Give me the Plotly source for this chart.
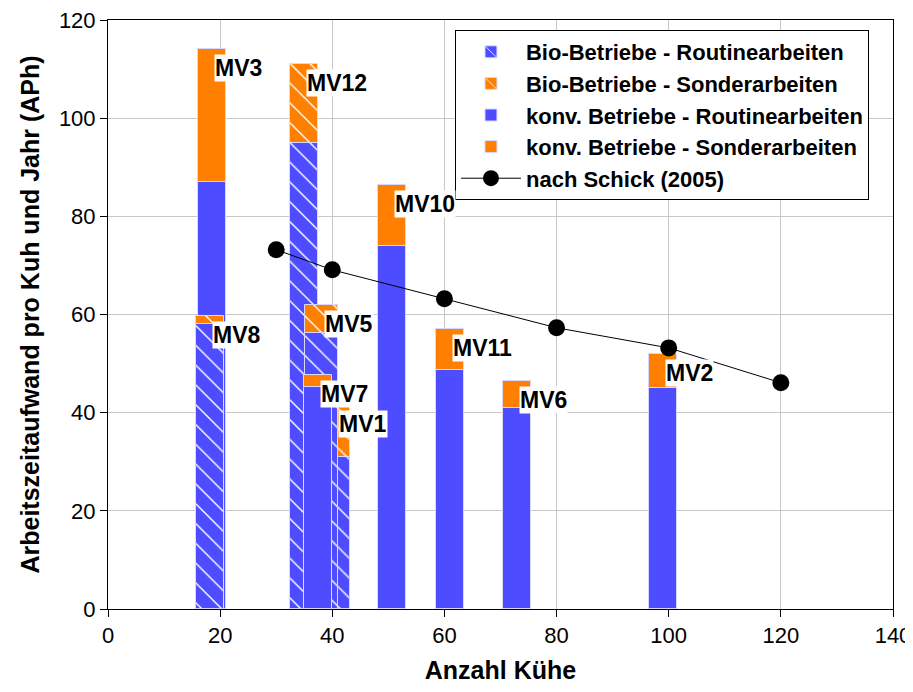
import plotly.graph_objects as go

# ---- data ----
farms = ["MV3", "MV8", "MV12", "MV1", "MV5", "MV7", "MV10", "MV11", "MV6", "MV2"]
cows = [18.6, 18.2, 35.0, 40.7, 38.1, 37.5, 50.6, 61.0, 72.9, 99.0]
is_bio = [False, True, True, True, True, False, False, False, False, False]
routine = [87.0, 58.0, 95.0, 31.0, 56.3, 45.3, 74.0, 48.6, 41.0, 45.1]
sonder = [27.0, 1.6, 16.0, 10.5, 5.7, 2.3, 12.3, 8.5, 5.5, 6.9]

schick_cows = [30, 40, 60, 80, 100, 120]
schick_aph = [73.2, 69.1, 63.2, 57.3, 53.2, 46.1]

series_names = {
    (True, "r"): "Bio-Betriebe - Routinearbeiten",
    (True, "s"): "Bio-Betriebe - Sonderarbeiten",
    (False, "r"): "konv. Betriebe - Routinearbeiten",
    (False, "s"): "konv. Betriebe - Sonderarbeiten",
}
schick_name = "nach Schick (2005)"

x_ticks = [0, 20, 40, 60, 80, 100, 120, 140]
y_ticks = [0, 20, 40, 60, 80, 100, 120]

# ---- style ----
BLUE = "#4D4DFF"
ORANGE = "#FF8000"
FONT = "Arial, 'Liberation Sans', sans-serif"
BAR_W = 5.0
WIDTH_OVERRIDE = {"MV5": 5.9}
rank = {(True, "r"): 1, (True, "s"): 2, (False, "r"): 3, (False, "s"): 4}

fig = go.Figure()
shown = set()
for f, x, bio, r, s in zip(farms, cows, is_bio, routine, sonder):
    w = WIDTH_OVERRIDE.get(f, BAR_W)
    for part, val, base, col in (("r", r, 0, BLUE), ("s", s, r, ORANGE)):
        key = (bio, part)
        marker = dict(color=col, line=dict(color="#D8D8FF", width=1))
        if bio:
            marker["pattern"] = dict(shape="\\", fgcolor="white", bgcolor=col,
                                     size=14, solidity=0.1, fillmode="replace")
        fig.add_trace(go.Bar(
            x=[x], y=[val], base=[base], width=[w],
            marker=marker, name=series_names[key],
            legendgroup=series_names[key], legendrank=rank[key],
            showlegend=key not in shown, hoverinfo="skip",
        ))
        shown.add(key)

fig.add_trace(go.Scatter(
    x=schick_cows, y=schick_aph, mode="lines+markers", name=schick_name,
    line=dict(color="black", width=1), marker=dict(color="black", size=17),
    legendrank=5,
))

for f, x, r, s in zip(farms, cows, routine, sonder):
    fig.add_annotation(
        x=x, y=r + s, text="<b>%s</b>" % f, showarrow=False,
        xanchor="left", yanchor="top", xshift=2, yshift=-5,
        bgcolor="white", borderpad=0,
        font=dict(family=FONT, size=23, color="black"),
    )

axis_common = dict(
    showline=True, mirror=True, linecolor="black", linewidth=1,
    ticks="outside", ticklen=7, tickcolor="black",
    showgrid=True, gridcolor="#C8C8C8", gridwidth=1, zeroline=False,
    tickfont=dict(family=FONT, size=22, color="black"),
    automargin=False, ticklabeloverflow="allow",
)

# page body adds an 8px offset; size/margins compensate so the plot area
# lands at the reference position in the 913x692 window
fig.update_layout(
    width=905, height=676,
    margin=dict(l=100, r=20, t=12, b=75),
    paper_bgcolor="white", plot_bgcolor="white",
    barmode="overlay", bargap=0,
    showlegend=True,
    legend=dict(
        x=0.442, y=0.983, xanchor="left", yanchor="top",
        bgcolor="white", bordercolor="black", borderwidth=1,
        font=dict(family=FONT, size=22, color="black", weight="bold"),
        traceorder="normal", itemwidth=60, tracegroupgap=0,
    ),
    xaxis=dict(range=[0, 140], tickvals=x_ticks,
               title=dict(text="<b>Anzahl Kühe</b>", standoff=14,
                          font=dict(family=FONT, size=25, color="black")),
               **axis_common),
    yaxis=dict(range=[0, 120], tickvals=y_ticks,
               title=dict(text="<b>Arbeitszeitaufwand pro Kuh und Jahr (APh)</b>",
                          standoff=12,
                          font=dict(family=FONT, size=25, color="black")),
               **axis_common),
)

fig.write_html("out.html")
